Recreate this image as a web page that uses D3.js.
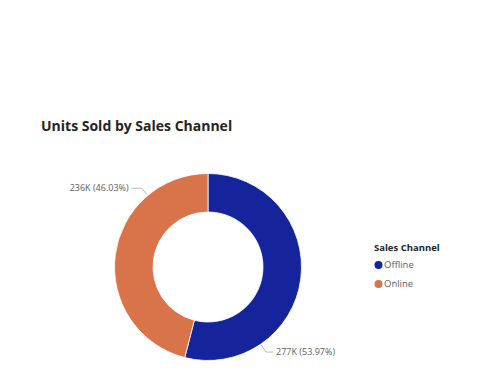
<!DOCTYPE html>
<html>
<head>
<meta charset="utf-8">
<script src="https://cdn.jsdelivr.net/npm/d3@7"></script>
<style>
  body { margin: 0; background: #fff; }
  text { font-family: "Open Sans", "Noto Sans", sans-serif; }
</style>
</head>
<body>
<svg id="chart" width="503" height="378"></svg>
<script>
const channels = ['Offline', 'Online'];
const unitsSold = [277, 236]; // thousands
const pctLabels = ['53.97%', '46.03%'];
const colors = ['#15249A', '#D9744A'];

const svg = d3.select('#chart');
const cx = 208, cy = 267;
const rOuter = 93.5, rInner = 55;

svg.append('text')
  .attr('x', 41).attr('y', 131)
  .attr('font-size', 14).attr('font-weight', 700)
  .attr('fill', '#252423')
  .text('Units Sold by Sales Channel');

const pie = d3.pie().sort(null).value(d => d);
const arcs = pie(unitsSold);
const arc = d3.arc().innerRadius(rInner).outerRadius(rOuter);

const g = svg.append('g').attr('transform', `translate(${cx},${cy})`);

g.selectAll('path.slice')
  .data(arcs)
  .enter().append('path')
  .attr('class', 'slice')
  .attr('d', arc)
  .attr('fill', (d, i) => colors[i])
  .attr('stroke', '#fff')
  .attr('stroke-width', 0.8);

// leader lines + labels
const lineArc = d3.arc().innerRadius(rOuter + 1).outerRadius(rOuter + 1);
const kneeArc = d3.arc().innerRadius(rOuter + 9.5).outerRadius(rOuter + 9.5);
const anchorOffset = [0.85, 0.70]; // back from slice end, radians

arcs.forEach((d, i) => {
  const a = d.endAngle - anchorOffset[i];
  const p0 = lineArc.centroid({ startAngle: a, endAngle: a });
  const p1 = kneeArc.centroid({ startAngle: a, endAngle: a });
  const right = p1[0] > 0;
  const p2 = [p1[0] + (right ? 7 : -10), p1[1]];
  g.append('polyline')
    .attr('points', [p0, p1, p2].map(p => p.join(',')).join(' '))
    .attr('fill', 'none')
    .attr('stroke', '#a6a6a6')
    .attr('stroke-width', 0.8);
  g.append('text')
    .attr('x', p2[0] + (right ? 3 : -3))
    .attr('y', p2[1])
    .attr('dy', '0.35em')
    .attr('text-anchor', right ? 'start' : 'end')
    .attr('font-size', 9)
    .attr('fill', '#605e5c')
    .text(`${unitsSold[i]}K (${pctLabels[i]})`);
});

// legend
const legend = svg.append('g').attr('transform', 'translate(374,251)');
legend.append('text')
  .attr('x', 0).attr('y', 0)
  .attr('font-size', 9.5).attr('font-weight', 700)
  .attr('fill', '#252423')
  .text('Sales Channel');

const items = legend.selectAll('g.item')
  .data(channels)
  .enter().append('g')
  .attr('class', 'item')
  .attr('transform', (d, i) => `translate(0,${14 + i * 19})`);

items.append('circle')
  .attr('cx', 4.5).attr('cy', 0)
  .attr('r', 4)
  .attr('fill', (d, i) => colors[i]);

items.append('text')
  .attr('x', 10).attr('y', 0)
  .attr('dy', '0.35em')
  .attr('font-size', 9.5)
  .attr('fill', '#605e5c')
  .text(d => d);
</script>
</body>
</html>
